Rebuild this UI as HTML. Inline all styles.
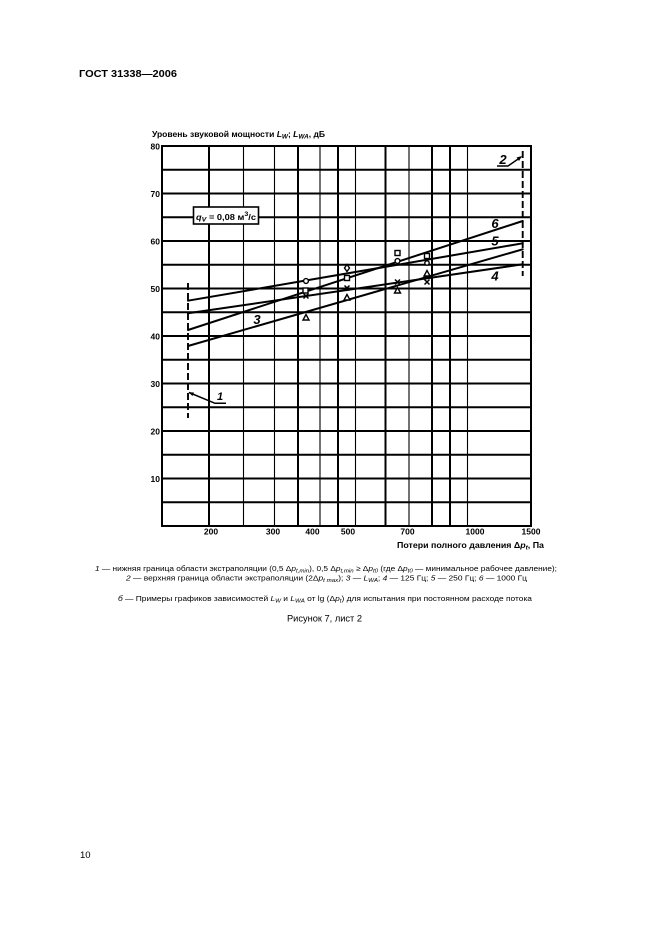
<!DOCTYPE html>
<html><head><meta charset="utf-8"><style>
html,body{margin:0;padding:0;background:#fff;}
svg{display:block}
text{font-family:"Liberation Sans",Arial,sans-serif;fill:#000}
</style></head><body>
<svg width="661" height="936" viewBox="0 0 661 936" xmlns="http://www.w3.org/2000/svg">
<rect width="661" height="936" fill="#fff"/>

<!-- header -->
<text x="79" y="77" font-size="10.5" font-weight="bold" textLength="98" lengthAdjust="spacingAndGlyphs">ГОСТ 31338—2006</text>

<!-- y axis title -->
<text x="152" y="137" font-size="8" font-weight="bold" textLength="173" lengthAdjust="spacingAndGlyphs">Уровень звуковой мощности <tspan font-style="italic">L</tspan><tspan font-size="6" dy="1.5" font-style="italic">W</tspan><tspan dy="-1.5">; </tspan><tspan font-style="italic">L</tspan><tspan font-size="6" dy="1.5" font-style="italic">WA</tspan><tspan dy="-1.5">, дБ</tspan></text>

<!-- horizontal grid -->
<g stroke="#000" stroke-width="1.9">
<line x1="162" x2="531" y1="502.25" y2="502.25"/>
<line x1="162" x2="531" y1="478.5" y2="478.5"/>
<line x1="162" x2="531" y1="454.75" y2="454.75"/>
<line x1="162" x2="531" y1="431" y2="431"/>
<line x1="162" x2="531" y1="407.25" y2="407.25"/>
<line x1="162" x2="531" y1="383.5" y2="383.5"/>
<line x1="162" x2="531" y1="359.75" y2="359.75"/>
<line x1="162" x2="531" y1="336" y2="336"/>
<line x1="162" x2="531" y1="312.25" y2="312.25"/>
<line x1="162" x2="531" y1="288.5" y2="288.5"/>
<line x1="162" x2="531" y1="264.75" y2="264.75"/>
<line x1="162" x2="531" y1="241" y2="241"/>
<line x1="162" x2="531" y1="217.25" y2="217.25"/>
<line x1="162" x2="531" y1="193.5" y2="193.5"/>
<line x1="162" x2="531" y1="169.75" y2="169.75"/>
</g>
<!-- vertical grid thick -->
<g stroke="#000" stroke-width="2">
<line x1="209" x2="209" y1="146" y2="526"/>
<line x1="298" x2="298" y1="146" y2="526"/>
<line x1="338" x2="338" y1="146" y2="526"/>
<line x1="385.5" x2="385.5" y1="146" y2="526"/>
<line x1="432" x2="432" y1="146" y2="526"/>
<line x1="450" x2="450" y1="146" y2="526"/>
</g>
<g stroke="#000" stroke-width="1.1">
<line x1="243.5" x2="243.5" y1="146" y2="526"/>
<line x1="274.5" x2="274.5" y1="146" y2="526"/>
<line x1="320" x2="320" y1="146" y2="526"/>
<line x1="355.5" x2="355.5" y1="146" y2="526"/>
<line x1="409" x2="409" y1="146" y2="526"/>
<line x1="467.5" x2="467.5" y1="146" y2="526"/>
</g>
<rect x="162" y="146" width="369" height="380" fill="none" stroke="#000" stroke-width="2"/>

<!-- y tick labels -->
<g font-size="8.5" font-weight="bold" text-anchor="end">
<text x="160" y="149.5">80</text>
<text x="160" y="197">70</text>
<text x="160" y="244.5">60</text>
<text x="160" y="292">50</text>
<text x="160" y="339.5">40</text>
<text x="160" y="387">30</text>
<text x="160" y="434.5">20</text>
<text x="160" y="482">10</text>
</g>
<!-- x tick labels -->
<g font-size="8.5" font-weight="bold" text-anchor="middle">
<text x="211" y="534.5">200</text>
<text x="273" y="534.5">300</text>
<text x="312.5" y="534.5">400</text>
<text x="348" y="534.5">500</text>
<text x="407.5" y="534.5">700</text>
<text x="475" y="534.5">1000</text>
<text x="531" y="534.5">1500</text>
</g>
<text x="397" y="548" font-size="8" font-weight="bold" textLength="147" lengthAdjust="spacingAndGlyphs">Потери полного давления Δ<tspan font-style="italic">p</tspan><tspan font-size="6" dy="1.5" font-style="italic">t</tspan><tspan dy="-1.5">, Па</tspan></text>

<!-- q_V box -->
<rect x="193.5" y="207" width="65" height="17" fill="#fff" stroke="#000" stroke-width="1.6"/>
<text x="196" y="220" font-size="8.5" font-weight="bold" textLength="60" lengthAdjust="spacingAndGlyphs"><tspan font-style="italic">q</tspan><tspan font-size="6.5" dy="1.5" font-style="italic">V</tspan><tspan dy="-1.5"> = 0,08 м</tspan><tspan font-size="6.5" dy="-4">3</tspan><tspan dy="4">/с</tspan></text>

<!-- dashed boundaries -->
<g stroke="#000" stroke-width="1.9" stroke-dasharray="7 3">
<line x1="188" x2="188" y1="283" y2="418"/>
<line x1="522.7" x2="522.7" y1="151" y2="276"/>
</g>

<!-- series lines -->
<g stroke="#000" stroke-width="2" stroke-linecap="round">
<line x1="188" y1="300.7" x2="522.7" y2="243.3"/>
<line x1="188" y1="313.3" x2="522.7" y2="264.3"/>
<line x1="188" y1="330" x2="522.7" y2="221"/>
<line x1="188" y1="346" x2="522.7" y2="249.3"/>
</g>

<!-- markers -->
<g stroke="#000" stroke-width="1.4" fill="#fff">
<circle cx="306" cy="281" r="2.4"/>
<rect x="303" y="288" width="5" height="5"/>
<polygon points="306,314.5 303,320 309,320"/>
<polygon points="347,264.5 349.5,268 347,271.5 344.5,268"/>
<rect x="344.5" y="275.5" width="5" height="5"/>
<polygon points="347,294.5 344,300 350,300"/>
<rect x="395" y="250.5" width="5" height="5"/>
<circle cx="397.5" cy="261" r="2.4"/>
<polygon points="397.5,287.5 394.5,293 400.5,293"/>
<rect x="424.5" y="253.5" width="5" height="5"/>
<circle cx="427" cy="263" r="2.2"/>
<polygon points="427,270.5 424,276 430,276"/>
</g>
<g stroke="#000" stroke-width="1.5">
<path d="M303.5,293.5 l5,5 M308.5,293.5 l-5,5"/>
<path d="M344.5,285.5 l5,5 M349.5,285.5 l-5,5"/>
<path d="M395,279.5 l5,5 M400,279.5 l-5,5"/>
<path d="M424.5,279.5 l5,5 M429.5,279.5 l-5,5"/>
</g>

<!-- line labels -->
<g font-size="13" font-weight="bold" font-style="italic" text-anchor="middle">
<text x="495" y="228">6</text>
<text x="495" y="245.5">5</text>
<text x="495" y="280.5">4</text>
<text x="257" y="324">3</text>
</g>

<!-- leader 1 -->
<polyline points="189,392.5 215,403.3 226,403.3" fill="none" stroke="#000" stroke-width="1.5"/>
<polygon points="188.5,392.3 194,392.5 192.5,396" fill="#000"/>
<text x="220" y="400" font-size="11" font-weight="bold" font-style="italic" text-anchor="middle">1</text>

<!-- leader 2 -->
<polyline points="497,166 508,166 521,157" fill="none" stroke="#000" stroke-width="1.5"/>
<polygon points="522,156 516.5,157.5 519,161" fill="#000"/>
<text x="503" y="164" font-size="13" font-weight="bold" font-style="italic" text-anchor="middle">2</text>

<!-- captions -->
<g fill="#222">
<text x="95" y="571" font-size="7.5" textLength="462" lengthAdjust="spacingAndGlyphs"><tspan font-style="italic">1</tspan> — нижняя граница области экстраполяции (0,5 Δ<tspan font-style="italic">p</tspan><tspan font-size="5.5" dy="1.5" font-style="italic">t,min</tspan><tspan dy="-1.5">), 0,5 Δ</tspan><tspan font-style="italic">p</tspan><tspan font-size="5.5" dy="1.5" font-style="italic">t,min</tspan><tspan dy="-1.5"> ≥ Δ</tspan><tspan font-style="italic">p</tspan><tspan font-size="5.5" dy="1.5" font-style="italic">t0</tspan><tspan dy="-1.5"> (где Δ</tspan><tspan font-style="italic">p</tspan><tspan font-size="5.5" dy="1.5" font-style="italic">t0</tspan><tspan dy="-1.5"> — минимальное рабочее давление);</tspan></text>
<text x="126" y="580.5" font-size="7.5" textLength="401" lengthAdjust="spacingAndGlyphs"><tspan font-style="italic">2</tspan> — верхняя граница области экстраполяции (2Δ<tspan font-style="italic">p</tspan><tspan font-size="5.5" dy="1.5" font-style="italic">t max</tspan><tspan dy="-1.5">); </tspan><tspan font-style="italic">3</tspan> — <tspan font-style="italic">L</tspan><tspan font-size="5.5" dy="1.5" font-style="italic">WA</tspan><tspan dy="-1.5">; </tspan><tspan font-style="italic">4</tspan> — 125 Гц; <tspan font-style="italic">5</tspan> — 250 Гц; <tspan font-style="italic">6</tspan> — 1000 Гц</text>
<text x="118" y="601" font-size="7.5" textLength="414" lengthAdjust="spacingAndGlyphs"><tspan font-style="italic">б</tspan> — Примеры графиков зависимостей <tspan font-style="italic">L</tspan><tspan font-size="5.5" dy="1.5" font-style="italic">W</tspan><tspan dy="-1.5"> и </tspan><tspan font-style="italic">L</tspan><tspan font-size="5.5" dy="1.5" font-style="italic">WA</tspan><tspan dy="-1.5"> от lg (Δ</tspan><tspan font-style="italic">p</tspan><tspan font-size="5.5" dy="1.5" font-style="italic">t</tspan><tspan dy="-1.5">) для испытания при постоянном расходе потока</tspan></text>
<text x="287" y="621.5" font-size="9" textLength="75" lengthAdjust="spacingAndGlyphs">Рисунок 7, лист 2</text>
</g>

<!-- page number -->
<text x="80" y="858" font-size="9.5">10</text>
</svg>
</body></html>
